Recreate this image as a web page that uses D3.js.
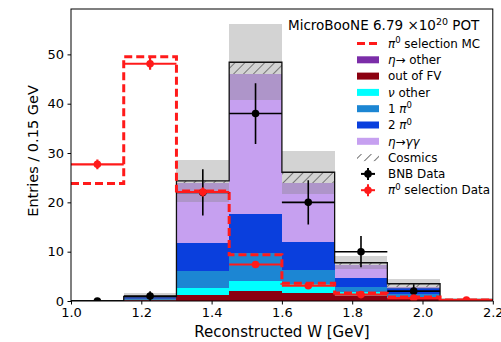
<!DOCTYPE html>
<html>
<head>
<meta charset="utf-8">
<script src="https://cdn.jsdelivr.net/npm/d3@7"></script>
<style>
  html, body { margin: 0; padding: 0; background: #fff; }
  svg text { font-family: "DejaVu Sans", sans-serif; fill: #000; }
</style>
</head>
<body>
<svg id="chart" width="501" height="342"></svg>
<script>
// Bin lower edges (GeV), width 0.15
const binLo = [1.0, 1.15, 1.3, 1.45, 1.6, 1.75, 1.9, 2.05];
const binWidth = 0.15;

// Stacked MC components, bottom to top
const etaOther = [0, 0, 0.05, 0.1, 0.05, 0, 0, 0];
const outFV    = [0, 0.15, 1.2, 1.9, 1.5, 1.0, 0.6, 0.2];
const nuOther  = [0, 0.05, 1.4, 2.0, 1.8, 0.8, 0.3, 0.05];
const onePi0   = [0, 0.15, 3.35, 5.7, 3.0, 1.0, 0.5, 0.05];
const twoPi0   = [0, 0.45, 5.75, 7.95, 5.7, 1.8, 1.2, 0];
const etaGG    = [0, 0.1, 12.1, 28.45, 11.8, 2.7, 0.3, 0];
const cosmics  = [0, 0, 0.5, 2.3, 2.25, 0.45, 0.6, 0];
// MC uncertainty (half-width of the grey band)
const mcErr    = [0, 0.8, 4.3, 7.75, 4.4, 1.3, 1.0, 0.2];

// Data
const bnbData    = [0, 1, 22, 38, 20, 10, 2, null];
const selMC      = [23.8, 49.5, 22.3, 9.4, 3.6, 1.6, 0.8, 0.2];
const selData    = [27.7, 48.1, 22.1, 7.4, 3.1, 1.3, 0.6, 0.2];
const selDataErr = [1.0, 1.2, 0.9, 0.6, 0.4, 0.3, 0.2, 0.1];

const xTicks = [1.0, 1.2, 1.4, 1.6, 1.8, 2.0, 2.2];
const yTicks = [0, 10, 20, 30, 40, 50];

const components = [
  { name: "etaOther", values: etaOther, color: "#7b2da8" },
  { name: "outFV",    values: outFV,    color: "#8b0010" },
  { name: "nuOther",  values: nuOther,  color: "#00ffff" },
  { name: "onePi0",   values: onePi0,   color: "#1c86d3" },
  { name: "twoPi0",   values: twoPi0,   color: "#0a3fdd" },
  { name: "etaGG",    values: etaGG,    color: "#c6a0f0" },
  { name: "cosmics",  values: cosmics,  color: "url(#hatch)" }
];

const svg = d3.select("#chart");
const pL = 71, pR = 492.8, pT = 9, pB = 301;

const x = d3.scaleLinear().domain([1.0, 2.2]).range([pL, pR]);
const y = d3.scaleLinear().domain([0, 59.2]).range([pB, pT]);

const defs = svg.append("defs");
defs.append("clipPath").attr("id", "plotClip")
  .append("rect").attr("x", pL).attr("y", pT)
  .attr("width", pR - pL).attr("height", pB - pT);

const hatch = defs.append("pattern").attr("id", "hatch")
  .attr("patternUnits", "userSpaceOnUse").attr("width", 7).attr("height", 7)
  .attr("patternTransform", "rotate(45)");
hatch.append("rect").attr("width", 7).attr("height", 7).attr("fill", "#fff");
hatch.append("line").attr("x1", 0).attr("y1", 0).attr("x2", 0).attr("y2", 7)
  .attr("stroke", "#222").attr("stroke-width", 1.3);

const plot = svg.append("g").attr("clip-path", "url(#plotClip)");

// Stack
const rows = binLo.map((lo, i) => {
  const r = { lo };
  components.forEach(c => { r[c.name] = c.values[i]; });
  return r;
});
const stacked = d3.stack().keys(components.map(c => c.name))(rows);

stacked.forEach((layer, k) => {
  plot.append("g").selectAll("rect").data(layer).join("rect")
    .attr("x", d => x(d.data.lo))
    .attr("width", d => x(d.data.lo + binWidth) - x(d.data.lo))
    .attr("y", d => y(d[1]))
    .attr("height", d => Math.max(0, y(d[0]) - y(d[1])))
    .attr("fill", components[k].color)
    .attr("shape-rendering", "crispEdges");
});

const totals = stacked[stacked.length - 1].map(d => d[1]);

// Uncertainty band
plot.append("g").selectAll("rect").data(binLo).join("rect")
  .attr("x", (lo) => x(lo))
  .attr("width", lo => x(lo + binWidth) - x(lo))
  .attr("y", (lo, i) => y(totals[i] + mcErr[i]))
  .attr("height", (lo, i) => Math.max(0, y(Math.max(0, totals[i] - mcErr[i])) - y(totals[i] + mcErr[i])))
  .attr("fill", "rgba(128,128,128,0.35)")
  .attr("shape-rendering", "crispEdges");

// Step outline helper
function stepPath(vals) {
  const pts = [];
  vals.forEach((v, i) => {
    pts.push([x(binLo[i]), y(v)]);
    pts.push([x(binLo[i] + binWidth), y(v)]);
  });
  pts.push([x(binLo[binLo.length - 1] + binWidth), y(0)]);
  return d3.line()(pts);
}

// Total MC outline
plot.append("path").attr("d", stepPath(totals))
  .attr("fill", "none").attr("stroke", "#111").attr("stroke-width", 1.3);

// pi0 selection MC (dashed step)
plot.append("path").attr("d", stepPath(selMC))
  .attr("fill", "none").attr("stroke", "#ff1a1a").attr("stroke-width", 3)
  .attr("stroke-dasharray", "8,4");

// Data points with error bars
function drawPoints(vals, errs, color, lw, r) {
  const g = plot.append("g");
  vals.forEach((v, i) => {
    if (v === null) return;
    const cx = x(binLo[i] + binWidth / 2);
    g.append("line").attr("x1", x(binLo[i])).attr("x2", x(binLo[i] + binWidth))
      .attr("y1", y(v)).attr("y2", y(v)).attr("stroke", color).attr("stroke-width", lw);
    const e = errs[i];
    if (e > 0) {
      g.append("line").attr("x1", cx).attr("x2", cx)
        .attr("y1", y(v + e)).attr("y2", y(Math.max(0, v - e)))
        .attr("stroke", color).attr("stroke-width", lw);
    }
    g.append("circle").attr("cx", cx).attr("cy", y(v)).attr("r", r).attr("fill", color);
  });
}
drawPoints(bnbData, bnbData.map(v => v === null ? 0 : Math.sqrt(v)), "#000", 1.6, 3.8);
drawPoints(selData, selDataErr, "#ff1a1a", 2.2, 3.8);

// Axes
const xAxis = d3.axisBottom(x).tickValues(xTicks).tickFormat(d3.format(".1f"))
  .tickSize(3.5).tickPadding(3);
const gx = svg.append("g").attr("transform", `translate(0,${pB})`).call(xAxis);
gx.select(".domain").remove();
gx.selectAll("text").attr("font-size", 13).attr("font-family", "DejaVu Sans").attr("fill", "#000");
gx.selectAll("line").attr("stroke", "#000");

const yAxis = d3.axisLeft(y).tickValues(yTicks).tickSize(3.5).tickPadding(3.5);
const gy = svg.append("g").attr("transform", `translate(${pL},0)`).call(yAxis);
gy.select(".domain").remove();
gy.selectAll("text").attr("font-size", 13).attr("font-family", "DejaVu Sans").attr("fill", "#000");
gy.selectAll("line").attr("stroke", "#000");

// Frame
svg.append("rect").attr("x", pL).attr("y", pT)
  .attr("width", pR - pL).attr("height", pB - pT)
  .attr("fill", "none").attr("stroke", "#000").attr("stroke-width", 1);

// Axis labels
svg.append("text").attr("x", (pL + pR) / 2).attr("y", 337)
  .attr("text-anchor", "middle").attr("font-size", 15)
  .text("Reconstructed W [GeV]");
svg.append("text").attr("transform", "translate(38,151) rotate(-90)")
  .attr("text-anchor", "middle").attr("font-size", 14.5)
  .text("Entries / 0.15 GeV");

// Legend
const lg = svg.append("g");
const title = lg.append("text").attr("x", 288).attr("y", 30).attr("font-size", 13.5);
title.append("tspan").text("MicroBooNE 6.79 ×10");
title.append("tspan").attr("dy", -5).attr("font-size", 9.5).text("20");
title.append("tspan").attr("dy", 5).text(" POT");

const hx = 357, hw = 22, tx = 388, rowY0 = 43.5, rowH = 16.3;
const legendItems = [
  { kind: "dash", parts: [["π", true], ["0", false, true], [" selection MC", false]] },
  { kind: "patch", color: "#7b2da8", parts: [["η", true], ["→ other", false]] },
  { kind: "patch", color: "#8b0010", parts: [["out of FV", false]] },
  { kind: "patch", color: "#00ffff", parts: [["ν", true], [" other", false]] },
  { kind: "patch", color: "#1c86d3", parts: [["1 ", false], ["π", true], ["0", false, true]] },
  { kind: "patch", color: "#0a3fdd", parts: [["2 ", false], ["π", true], ["0", false, true]] },
  { kind: "patch", color: "#c6a0f0", parts: [["η", true], ["→", false], ["γγ", true]] },
  { kind: "hatch", parts: [["Cosmics", false]] },
  { kind: "point", color: "#000", parts: [["BNB Data", false]] },
  { kind: "point", color: "#ff1a1a", parts: [["π", true], ["0", false, true], [" selection Data", false]] }
];

legendItems.forEach((it, i) => {
  const cy = rowY0 + i * rowH;
  if (it.kind === "patch") {
    lg.append("rect").attr("x", hx).attr("y", cy - 3.5).attr("width", hw).attr("height", 7)
      .attr("fill", it.color);
  } else if (it.kind === "hatch") {
    lg.append("rect").attr("x", hx).attr("y", cy - 3.5).attr("width", hw).attr("height", 7)
      .attr("fill", "url(#hatch)");
  } else if (it.kind === "dash") {
    lg.append("line").attr("x1", hx).attr("x2", hx + hw).attr("y1", cy).attr("y2", cy)
      .attr("stroke", "#ff1a1a").attr("stroke-width", 3).attr("stroke-dasharray", "8,4");
  } else if (it.kind === "point") {
    const c = hx + hw / 2;
    lg.append("line").attr("x1", c - 7).attr("x2", c + 7).attr("y1", cy).attr("y2", cy)
      .attr("stroke", it.color).attr("stroke-width", 2);
    lg.append("line").attr("x1", c).attr("x2", c).attr("y1", cy - 6).attr("y2", cy + 6)
      .attr("stroke", it.color).attr("stroke-width", 2);
    lg.append("circle").attr("cx", c).attr("cy", cy).attr("r", 3.8).attr("fill", it.color);
  }
  const t = lg.append("text").attr("x", tx).attr("y", cy + 4.2).attr("font-size", 11.9);
  let raised = false;
  it.parts.forEach(([s, ital, sup]) => {
    const sp = t.append("tspan").text(s);
    if (ital) sp.attr("font-style", "italic");
    if (sup) { sp.attr("dy", -4.5).attr("font-size", 8.5); raised = true; }
    else if (raised) { sp.attr("dy", 4.5); raised = false; }
  });
});
</script>
</body>
</html>
